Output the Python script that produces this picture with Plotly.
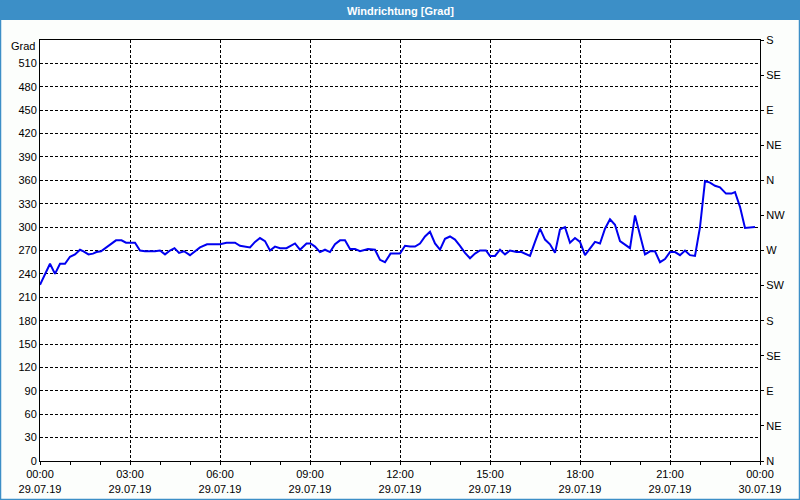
import plotly.graph_objects as go

# ---- data ----
times = ["00:00","00:20","00:30","00:40","00:50","01:00","01:10","01:20","01:27","01:37",
         "01:46","01:53","02:02","02:10","02:20","02:32","02:43","02:52","03:10","03:20",
         "03:30","03:50","04:00","04:10","04:20","04:29","04:38","04:48","05:00","05:10",
         "05:20","05:34","06:00","06:13","06:30","06:40","07:00","07:10","07:20","07:30",
         "07:40","07:50","08:00","08:13","08:30","08:40","08:53","09:01","09:10","09:20",
         "09:30","09:40","09:50","10:00","10:10","10:20","10:30","10:40","10:56","11:10",
         "11:20","11:30","11:41","12:00","12:10","12:20","12:30","12:40","12:50","13:00",
         "13:10","13:20","13:30","13:40","13:50","14:00","14:10","14:20","14:30","14:40",
         "14:52","15:00","15:10","15:20","15:30","15:40","15:53","16:03","16:10","16:20",
         "16:30","16:40","16:50","17:00","17:10","17:20","17:30","17:40","17:50","18:00",
         "18:10","18:20","18:30","18:40","18:50","19:00","19:10","19:20","19:30","19:40",
         "19:50","20:00","20:10","20:20","20:30","20:40","20:50","21:00","21:10","21:20",
         "21:30","21:40","21:50","22:00","22:10","22:20","22:30","22:40","22:52","23:03",
         "23:10","23:20","23:30","23:50"]
values = [226,253,240,253,253,262,265,271,269,265,
          266,268,269,273,277,283,283,280,280,270,
          269,269,270,265,270,273,267,269,264,269,
          274,278,278,280,280,276,274,281,286,282,
          270,275,273,273,279,271,279,279,275,268,
          271,268,278,283,283,272,272,269,272,271,
          258,255,266,266,276,275,275,279,288,294,
          279,271,285,288,284,276,267,260,266,270,
          270,263,263,271,265,270,268,268,266,263,
          281,298,284,278,267,297,300,280,286,281,
          264,273,281,279,298,310,303,282,277,273,
          315,290,265,269,269,255,259,268,268,264,
          270,264,263,300,359,357,353,351,343,343,
          345,326,299,300]

x_tick_vals = ["2019-07-29 00:00","2019-07-29 03:00","2019-07-29 06:00","2019-07-29 09:00",
               "2019-07-29 12:00","2019-07-29 15:00","2019-07-29 18:00","2019-07-29 21:00",
               "2019-07-30 00:00"]
x_tick_text = ["00:00<br>29.07.19","03:00<br>29.07.19","06:00<br>29.07.19","09:00<br>29.07.19",
               "12:00<br>29.07.19","15:00<br>29.07.19","18:00<br>29.07.19","21:00<br>29.07.19",
               "00:00<br>30.07.19"]
left_ticks = list(range(0, 511, 30))
right_tick_vals = list(range(0, 541, 45))
right_tick_text = ["N","NE","E","SE","S","SW","W","NW","N","NE","E","SE","S"]

x = ["2019-07-29 " + t for t in times]

FONT = "Liberation Sans, Arial, sans-serif"
BLUE_BAR = "#3c8fc7"
W, H = 800, 500
L, R, T, B = 40, 40, 40, 39
pw, ph = W - L - R, H - T - B

def px(xpix):
    return (xpix - L) / pw

def py(ypix):
    return 1 - (ypix - T) / ph

fig = go.Figure()
fig.add_trace(go.Scatter(x=x, y=values, mode="lines",
                         line=dict(color="#0000f0", width=2), showlegend=False))
# invisible trace for right axis
fig.add_trace(go.Scatter(x=[x[0]], y=[0], yaxis="y2", mode="markers",
                         marker=dict(opacity=0), showlegend=False, hoverinfo="skip"))

fig.update_layout(
    width=W, height=H,
    margin=dict(l=L, r=R, t=T, b=B, autoexpand=False),
    paper_bgcolor="#fcfefc",
    plot_bgcolor="#ffffff",
    font=dict(family=FONT, size=11, color="#000000"),
    xaxis=dict(
        type="date", automargin=False,
        range=["2019-07-29 00:00", "2019-07-30 00:00"],
        tickvals=x_tick_vals, ticktext=x_tick_text,
        ticks="outside", ticklen=3, tickcolor="#000",
        minor=dict(dtick=3600000, ticks="outside", ticklen=3, tickcolor="#000", showgrid=False),
        showgrid=True, gridcolor="#000000", gridwidth=1, griddash="3px,2px",
        showline=True, linecolor="#000", linewidth=1, mirror=True,
        zeroline=False, tickfont=dict(family=FONT, size=11),
    ),
    yaxis=dict(
        range=[0, 540], tickvals=left_ticks, automargin=False,
        ticks="", showgrid=True, gridcolor="#000000", gridwidth=1, griddash="3px,2px",
        showline=True, linecolor="#000", linewidth=1,
        zeroline=False, tickfont=dict(family=FONT, size=11),
    ),
    yaxis2=dict(
        range=[0, 540], overlaying="y", side="right", automargin=False,
        tickvals=right_tick_vals, ticktext=right_tick_text,
        ticks="outside", ticklen=3, tickcolor="#000",
        showgrid=False, showline=True, linecolor="#000", linewidth=1,
        zeroline=False, tickfont=dict(family=FONT, size=11),
    ),
    shapes=[
        dict(type="rect", xref="paper", yref="paper",
             x0=px(0), x1=px(W), y0=py(20), y1=py(0),
             fillcolor=BLUE_BAR, line=dict(width=0), layer="above"),
        dict(type="rect", xref="paper", yref="paper",
             x0=px(0.5), x1=px(W - 0.5), y0=py(H - 0.5), y1=py(0.5),
             fillcolor="rgba(0,0,0,0)", line=dict(color=BLUE_BAR, width=1.5), layer="above"),
    ],
    annotations=[
        dict(text="<b>Windrichtung [Grad]</b>", xref="paper", yref="paper",
             x=0.5, y=py(10.5), xanchor="center", yanchor="middle", showarrow=False,
             font=dict(family=FONT, size=11, color="#ffffff")),
        dict(text="Grad", xref="paper", yref="paper",
             x=px(37), y=py(46), xanchor="right", yanchor="middle", showarrow=False,
             font=dict(family=FONT, size=11, color="#000000")),
    ],
)

fig.write_html("out.html")
